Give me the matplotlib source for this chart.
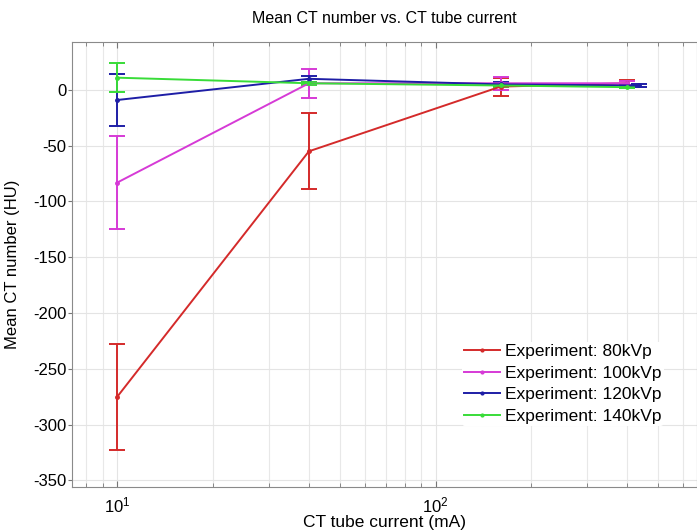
import matplotlib
matplotlib.use("Agg")
import matplotlib.pyplot as plt
from matplotlib.lines import Line2D
from matplotlib.ticker import LogLocator, NullFormatter, MultipleLocator

plt.rcParams['font.family'] = ['Liberation Sans', 'DejaVu Sans']
plt.rcParams['mathtext.fontset'] = 'custom'
plt.rcParams['mathtext.rm'] = 'Liberation Sans'
plt.rcParams['mathtext.it'] = 'Liberation Sans'
plt.rcParams['axes.unicode_minus'] = False

# data
current = [10, 40, 160, 400]
current_120 = [10, 40, 160, 435]
labels = ['Experiment: 80kVp', 'Experiment: 100kVp',
          'Experiment: 120kVp', 'Experiment: 140kVp']

mean_80 = [-275, -55, 3, 6]
err_80 = [47.5, 34, 8, 3]
mean_100 = [-83, 6, 6, 6]
err_100 = [42, 13, 6, 2]
mean_120 = [-9, 10, 5, 4]
err_120 = [23.5, 2.5, 2, 1.5]
mean_140 = [11, 6, 4, 2.5]
err_140 = [13, 1.5, 1, 1]

colors = ['#d42a2a', '#d63ad6', '#1e1ea6', '#38dc38']

fig = plt.figure(figsize=(6.97, 5.31), dpi=100)
ax = fig.add_axes([0.1029, 0.0829, 0.8971, 0.838])

series = [(current, mean_80, err_80), (current, mean_100, err_100),
          (current_120, mean_120, err_120), (current, mean_140, err_140)]
handles = []
for (xs, m, e), c, lab in zip(series, colors, labels):
    ax.errorbar(xs, m, yerr=e, color=c, ecolor=c, lw=1.4, elinewidth=1.4,
                capsize=6, capthick=1.4, marker='.', markersize=5)
    handles.append(Line2D([], [], color=c, lw=1.4, marker='.', markersize=4, label=lab))

ax.set_xscale('log')
ax.set_xlim(7.19, 663)
ax.set_ylim(-356, 43)
ax.yaxis.set_major_locator(MultipleLocator(50))
ax.xaxis.set_major_locator(LogLocator(base=10))
ax.xaxis.set_minor_locator(LogLocator(base=10, subs=range(2, 10)))
ax.xaxis.set_minor_formatter(NullFormatter())

ax.grid(True, which='major', color='#e4e4e4', lw=0.8)
ax.grid(True, which='minor', axis='x', color='#e8e8e8', lw=0.8)
ax.set_axisbelow(True)

for s in ax.spines.values():
    s.set_color('#8a8a8a')
ax.tick_params(axis='x', which='both', direction='in', top=True, color='#777777',
               labelsize=12, pad=6)
ax.tick_params(axis='x', which='major', length=4)
ax.tick_params(axis='x', which='minor', length=3)
ax.tick_params(axis='y', direction='out', length=3, color='#777777', labelsize=12, pad=1)

ax.set_title('Mean CT number vs. CT tube current', fontsize=11.5, pad=14)
ax.set_xlabel('CT tube current (mA)', fontsize=12.5)
ax.set_ylabel('Mean CT number (HU)', fontsize=12)
ax.xaxis.set_label_coords(0.5, -0.064)
ax.yaxis.set_label_coords(-0.082, 0.5)

ax.legend(handles=handles, loc='upper left', bbox_to_anchor=(0.624, 0.325),
          frameon=True, fontsize=12.5, handlelength=2.1, handletextpad=0.3,
          labelspacing=0.37, borderpad=0.1, borderaxespad=0, edgecolor='none',
          facecolor='white', framealpha=1)

fig.savefig('out.png', dpi=100)
